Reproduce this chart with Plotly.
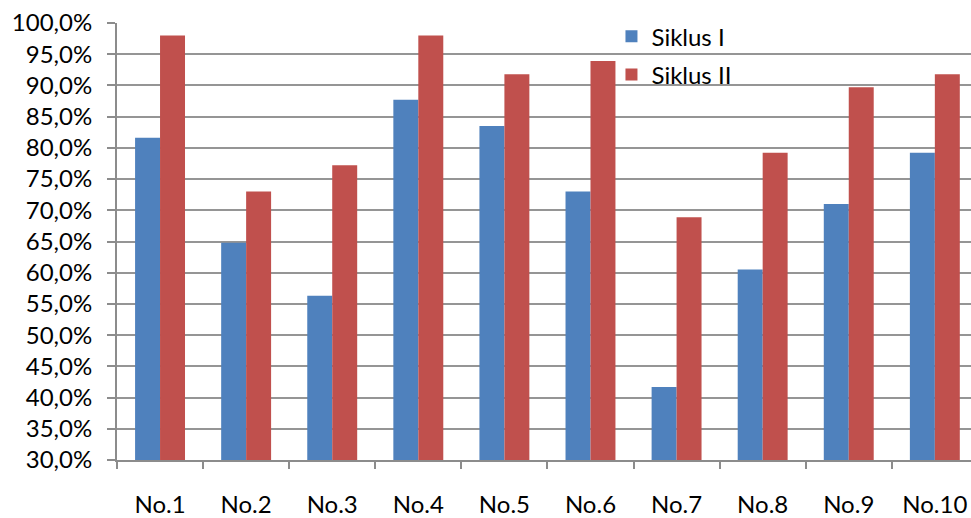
import plotly.graph_objects as go

categories = ["No.1", "No.2", "No.3", "No.4", "No.5", "No.6", "No.7", "No.8", "No.9", "No.10"]
siklus_1 = [81.6, 64.8, 56.3, 87.7, 83.5, 73.0, 41.7, 60.5, 71.0, 79.2]
siklus_2 = [98.0, 73.0, 77.2, 98.0, 91.8, 93.9, 68.9, 79.2, 89.7, 91.8]
y_ticks = [30, 35, 40, 45, 50, 55, 60, 65, 70, 75, 80, 85, 90, 95, 100]
y_tick_labels = [f"{v},0%" for v in y_ticks]

FONT = "Lato"
FS = 24
fig = go.Figure()
fig.add_trace(go.Bar(x=categories, y=siklus_1, name="Siklus I", marker_color="#4F81BD",
                     marker_line_width=0, legendgroup="a"))
fig.add_trace(go.Bar(x=categories, y=siklus_2, name="Siklus II", marker_color="#C0504D",
                     marker_line_width=0, legendgroup="b"))

fig.update_layout(
    width=971, height=518,
    margin=dict(l=117, r=0, t=23, b=54),
    paper_bgcolor="white", plot_bgcolor="white",
    barmode="group", bargap=0.42, bargroupgap=0,
    font=dict(family=FONT, size=FS, color="#000000"),
    legend=dict(x=0.579, y=1.02, xanchor="left", yanchor="top",
                bgcolor="rgba(0,0,0,0)", font=dict(family=FONT, size=FS),
                tracegroupgap=4, itemwidth=30),
    showlegend=True,
)
fig.update_xaxes(
    range=[-0.5, 9.42], showgrid=False, showline=True, linecolor="#8c8c8c", linewidth=2,
    ticks="outside", tickson="boundaries", ticklen=7, tickcolor="#8c8c8c", tickwidth=2,
    ticklabelstandoff=22, tickfont=dict(family=FONT, size=FS),
)
fig.update_yaxes(
    range=[30, 100], tickvals=y_ticks, ticktext=y_tick_labels,
    showgrid=True, gridcolor="#959595", gridwidth=2,
    showline=True, linecolor="#8c8c8c", linewidth=2,
    ticks="outside", ticklen=8, tickcolor="#8c8c8c", tickwidth=2,
    ticklabelstandoff=10, tickfont=dict(family=FONT, size=FS), zeroline=False,
)
fig.write_html("out.html", config={"displayModeBar": False},
               post_script="document.body.style.margin='0';document.body.style.overflow='hidden';")
